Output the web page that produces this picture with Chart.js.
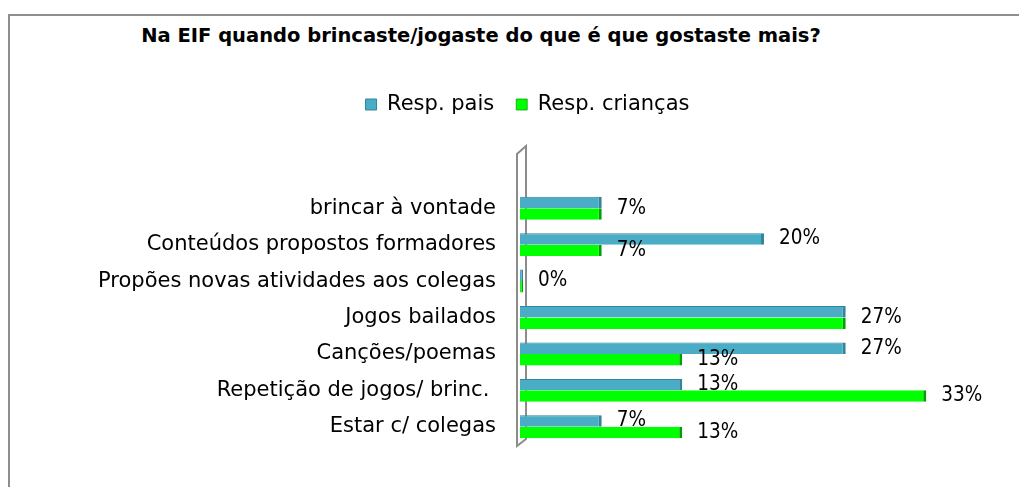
<!DOCTYPE html>
<html>
<head>
<meta charset="utf-8">
<script src="https://cdn.jsdelivr.net/npm/chart.js@4.4.1/dist/chart.umd.min.js"></script>
<style>
  html, body { margin: 0; padding: 0; background: #fff; overflow: hidden; }
  #frame {
    position: absolute; left: 8px; top: 14px; width: 1100px; height: 600px;
    border-left: 2px solid #8e8e8e; border-top: 2px solid #8e8e8e;
  }
  #title {
    position: absolute; left: 0; top: 24px; width: 962px; text-align: center;
    font: bold 19.5px "DejaVu Sans", sans-serif; color: #000;
  }
  #wrap { position: absolute; left: 0; top: 0; width: 1019px; height: 487px; }
</style>
</head>
<body>
<div id="frame"></div>
<div id="title">Na EIF quando brincaste/jogaste do que é que gostaste mais?</div>
<div id="wrap"><canvas id="chart" width="1019" height="487"></canvas></div>
<script>
// --- Data ---
const categories = [
  'brincar à vontade',
  'Conteúdos propostos formadores',
  'Propões novas atividades aos colegas',
  'Jogos bailados',
  'Canções/poemas',
  'Repetição de jogos/ brinc. ',
  'Estar c/ colegas'
];
const seriesNames = ['Resp. pais', 'Resp. crianças'];
const paisValues = [6.7, 20, 0, 26.7, 26.7, 13.3, 6.7];
const criancasValues = [6.7, 6.7, 0, 26.7, 13.3, 33.3, 13.3];

const COLORS = {
  pais: '#4bacc6',
  paisEdge: '#31859c',
  criancas: '#00ff00',
  criancasEdge: '#00a000',
  wall: '#8c8c8c',
  text: '#000'
};
const FONT = '"DejaVu Sans", sans-serif';
const LABEL_FONT = '"DejaVu Sans Condensed", "DejaVu Sans", sans-serif';

// extra room under the legend
const legendGap = {
  id: 'legendGap',
  beforeInit(chart) {
    const fit = chart.legend.fit;
    chart.legend.fit = function () {
      fit.bind(chart.legend)();
      this.height += 65;
    };
  }
};

// 3D-ish side wall behind the bars
const sideWall = {
  id: 'sideWall',
  beforeDatasetsDraw(chart) {
    const { ctx, chartArea: a } = chart;
    const top = a.top - 44, bot = a.bottom + 1;
    ctx.save();
    ctx.strokeStyle = COLORS.wall;
    ctx.lineWidth = 2;
    ctx.beginPath();
    ctx.moveTo(a.left - 3, top + 8);
    ctx.lineTo(a.left + 6, top);
    ctx.lineTo(a.left + 6, bot - 7);
    ctx.lineTo(a.left - 3, bot);
    ctx.closePath();
    ctx.stroke();
    ctx.restore();
  }
};

// value labels at the end of the bars (one label when both values match)
const valueLabels = {
  id: 'valueLabels',
  afterDatasetsDraw(chart) {
    const { ctx } = chart;
    const m0 = chart.getDatasetMeta(0), m1 = chart.getDatasetMeta(1);
    ctx.save();
    ctx.font = '20.5px ' + LABEL_FONT;
    ctx.fillStyle = COLORS.text;
    ctx.textBaseline = 'middle';
    ctx.textAlign = 'left';
    categories.forEach((c, i) => {
      const b0 = m0.data[i], b1 = m1.data[i];
      const t0 = Math.round(paisValues[i]) + '%';
      const t1 = Math.round(criancasValues[i]) + '%';
      if (t0 === t1) {
        ctx.fillText(t0, Math.max(b0.x, b1.x) + 15, (b0.y + b1.y) / 2);
      } else {
        ctx.fillText(t0, b0.x + 15, b0.y);
        ctx.fillText(t1, b1.x + 15, b1.y);
      }
    });
    ctx.restore();
  }
};

new Chart(document.getElementById('chart'), {
  type: 'bar',
  data: {
    labels: categories,
    datasets: [
      {
        label: seriesNames[0],
        data: paisValues,
        backgroundColor: COLORS.pais,
        borderColor: COLORS.paisEdge,
        borderWidth: { top: 1, right: 3, bottom: 0, left: 0 },
        borderSkipped: false,
        minBarLength: 3
      },
      {
        label: seriesNames[1],
        data: criancasValues,
        backgroundColor: COLORS.criancas,
        borderColor: COLORS.criancasEdge,
        borderWidth: { top: 0, right: 3, bottom: 0, left: 0 },
        borderSkipped: false,
        minBarLength: 3
      }
    ]
  },
  options: {
    indexAxis: 'y',
    responsive: false,
    animation: false,
    categoryPercentage: 0.63,
    barPercentage: 1.0,
    layout: { padding: { top: 72, left: 47, right: 11, bottom: 42 } },
    plugins: {
      title: { display: false },
      tooltip: { enabled: false },
      legend: {
        display: true,
        position: 'top',
        labels: {
          color: COLORS.text,
          font: { family: FONT, size: 21 },
          boxWidth: 11,
          boxHeight: 11,
          padding: 22
        }
      }
    },
    scales: {
      x: { display: false, min: 0, max: 40 },
      y: {
        grid: { display: false },
        border: { display: false },
        ticks: {
          color: COLORS.text,
          font: { family: FONT, size: 21 },
          padding: 16
        },
        afterFit(scale) { scale.width = 473; }
      }
    }
  },
  plugins: [legendGap, sideWall, valueLabels]
});
</script>
</body>
</html>
